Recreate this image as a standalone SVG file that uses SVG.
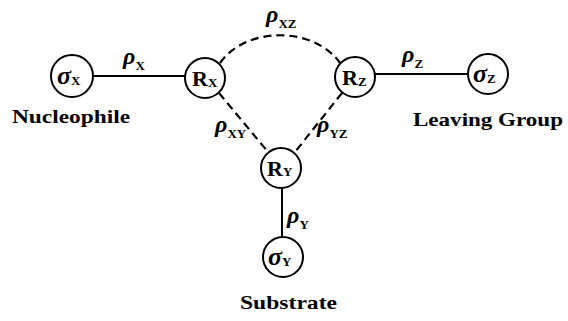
<svg xmlns="http://www.w3.org/2000/svg" width="568" height="321" viewBox="0 0 568 321">
<style>
.n{fill:#fff;stroke:#000;stroke-width:2}
.s{stroke:#000;stroke-width:2;fill:none}
.d{stroke:#000;stroke-width:2.2;fill:none;stroke-dasharray:8 5}
.t{font-family:"Liberation Serif",serif;font-weight:bold;fill:#000}
.r{font-family:"Liberation Serif",serif;font-weight:bold;font-style:italic;fill:#000;font-size:24px}
.g{font-family:"Liberation Serif",serif;font-weight:bold;font-style:italic;fill:#000;font-size:26px}
.sub{font-size:13px;font-style:normal}
.lab{font-family:"Liberation Serif",serif;font-weight:bold;fill:#000;font-size:19px}
</style>
<rect width="568" height="321" fill="#fff"/>
<g id="connectors">
<line class="s" x1="93" y1="76" x2="185" y2="76"/>
<line class="s" x1="375" y1="74" x2="468" y2="74"/>
<line class="s" x1="282" y1="188" x2="282" y2="237"/>
<path class="d" d="M220,63 C246,26 314,26 340,63"/>
<line class="d" x1="219" y1="93" x2="268" y2="152"/>
<line class="d" x1="342" y1="93" x2="295" y2="152"/>
<text class="r" x="123" y="64">ρ<tspan class="sub" dy="6">X</tspan></text>
<text class="r" x="266" y="22">ρ<tspan class="sub" dy="6">XZ</tspan></text>
<text class="r" x="402" y="62">ρ<tspan class="sub" dy="6">Z</tspan></text>
<text class="r" x="215" y="132">ρ<tspan class="sub" dy="6">XY</tspan></text>
<text class="r" x="317" y="132">ρ<tspan class="sub" dy="6">YZ</tspan></text>
<text class="r" x="287" y="223">ρ<tspan class="sub" dy="6">Y</tspan></text>
</g>
<g id="sigmaX">
<circle class="n" cx="72" cy="76" r="21"/>
<text class="g" x="57" y="84">σ<tspan class="sub" dy="1">X</tspan></text>
</g>
<g id="RX">
<circle class="n" cx="205" cy="78" r="20"/>
<text class="t" x="192" y="86" font-size="22">R<tspan font-size="13" dy="1">X</tspan></text>
</g>
<g id="RZ">
<circle class="n" cx="355" cy="77" r="20"/>
<text class="t" x="342" y="85" font-size="22">R<tspan font-size="13" dy="1">Z</tspan></text>
</g>
<g id="sigmaZ">
<circle class="n" cx="488" cy="74" r="20"/>
<text class="g" x="473" y="82">σ<tspan class="sub" dy="1">Z</tspan></text>
</g>
<g id="RY">
<circle class="n" cx="281" cy="168" r="20"/>
<text class="t" x="267" y="176" font-size="22">R<tspan font-size="13" dy="0">Y</tspan></text>
</g>
<g id="sigmaY">
<circle class="n" cx="283" cy="257" r="20"/>
<text class="g" x="268" y="265">σ<tspan class="sub" dy="1">Y</tspan></text>
</g>
<g id="labels">
<text class="lab" x="12" y="123" textLength="118" lengthAdjust="spacingAndGlyphs">Nucleophile</text>
<text class="lab" x="413" y="126" textLength="150" lengthAdjust="spacingAndGlyphs">Leaving Group</text>
<text class="lab" x="240" y="309" textLength="97" lengthAdjust="spacingAndGlyphs">Substrate</text>
</g>
</svg>
